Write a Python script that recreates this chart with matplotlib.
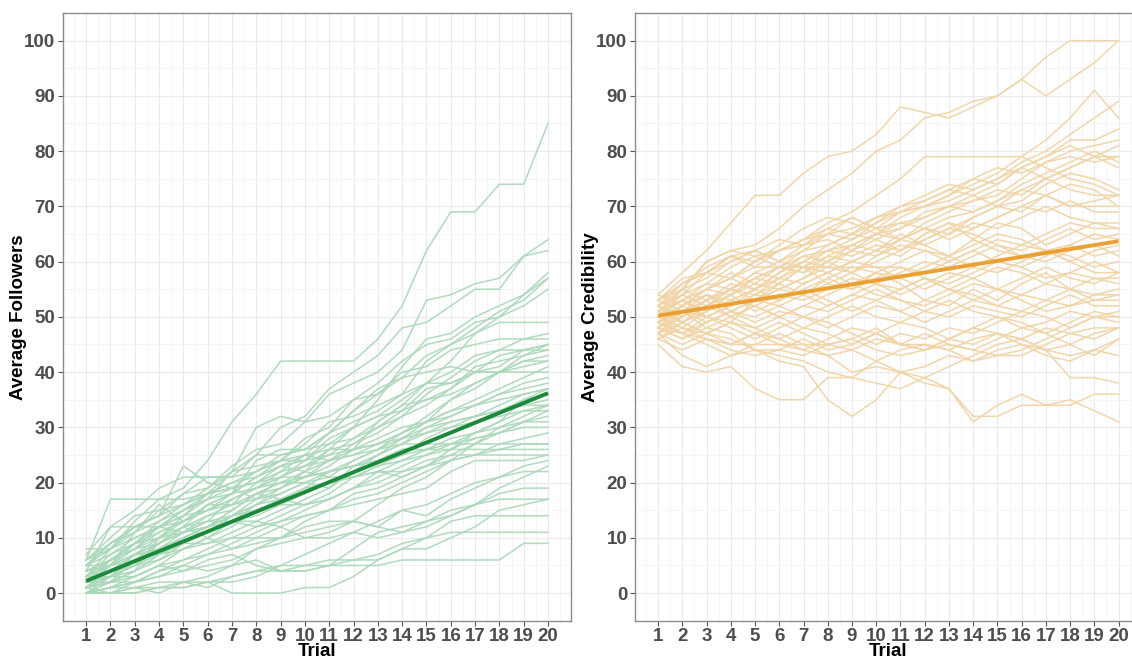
import numpy as np
import matplotlib
matplotlib.use("Agg")
import matplotlib.pyplot as plt
from matplotlib.ticker import MultipleLocator

trials = list(range(1, 21))

# Average followers per participant, trials 1..20
followers = [
    [3, 8, 13, 17, 19, 24, 31, 36, 42, 42, 42, 42, 46, 52, 62, 69, 69, 74, 74, 85],
    [5, 9, 12, 14, 18, 19, 23, 26, 27, 31, 36, 38, 40, 44, 53, 54, 56, 57, 61, 64],
    [2, 6, 9, 13, 15, 18, 22, 25, 30, 32, 37, 40, 43, 48, 49, 52, 55, 55, 61, 62],
    [1, 3, 7, 9, 12, 16, 16, 20, 23, 24, 28, 30, 35, 41, 46, 47, 50, 52, 54, 58],
    [4, 6, 9, 12, 14, 18, 19, 22, 25, 26, 29, 33, 37, 39, 43, 45, 48, 51, 53, 57],
    [0, 3, 5, 8, 11, 13, 17, 19, 21, 24, 27, 28, 31, 34, 38, 42, 47, 50, 54, 57],
    [2, 5, 9, 10, 14, 15, 18, 21, 24, 28, 30, 35, 38, 42, 45, 46, 49, 50, 52, 55],
    [6, 17, 17, 17, 17, 18, 20, 22, 24, 27, 31, 32, 34, 36, 42, 45, 47, 49, 49, 49],
    [1, 2, 6, 8, 10, 12, 15, 18, 20, 22, 26, 30, 32, 35, 38, 40, 43, 44, 46, 47],
    [3, 6, 9, 12, 15, 17, 22, 30, 32, 31, 32, 35, 36, 40, 41, 44, 45, 46, 46, 46],
    [0, 2, 4, 7, 9, 11, 14, 17, 21, 23, 26, 27, 29, 32, 34, 37, 40, 41, 44, 45],
    [5, 8, 12, 12, 14, 17, 18, 24, 26, 26, 27, 30, 32, 33, 37, 38, 40, 43, 44, 45],
    [2, 4, 5, 9, 11, 13, 14, 16, 19, 21, 23, 26, 31, 34, 35, 37, 41, 42, 43, 44],
    [7, 12, 15, 19, 21, 21, 21, 22, 24, 24, 25, 28, 30, 32, 36, 39, 42, 44, 44, 44],
    [1, 3, 6, 8, 10, 12, 15, 18, 19, 22, 24, 25, 27, 29, 31, 35, 38, 40, 42, 43],
    [8, 8, 11, 15, 18, 21, 21, 25, 25, 26, 29, 31, 33, 36, 38, 38, 40, 40, 42, 42],
    [0, 1, 3, 5, 8, 10, 12, 15, 17, 18, 20, 22, 25, 28, 31, 33, 35, 37, 39, 41],
    [4, 6, 8, 11, 13, 15, 17, 19, 22, 25, 29, 33, 36, 39, 40, 41, 40, 40, 40, 40],
    [2, 4, 7, 7, 9, 11, 14, 16, 18, 20, 19, 23, 25, 27, 30, 32, 34, 36, 38, 39],
    [3, 5, 6, 9, 12, 13, 13, 16, 17, 19, 22, 24, 26, 29, 31, 33, 34, 36, 37, 38],
    [0, 2, 3, 5, 6, 8, 10, 12, 14, 16, 18, 21, 23, 25, 28, 30, 32, 34, 36, 37],
    [5, 9, 11, 13, 16, 19, 22, 23, 24, 25, 26, 26, 28, 30, 31, 32, 34, 35, 36, 37],
    [1, 4, 7, 9, 12, 14, 16, 18, 20, 21, 22, 23, 25, 27, 29, 31, 32, 33, 35, 36],
    [2, 3, 5, 6, 8, 9, 11, 13, 15, 17, 19, 22, 24, 26, 27, 29, 31, 33, 34, 35],
    [6, 9, 12, 14, 16, 18, 20, 21, 23, 22, 21, 24, 26, 28, 30, 31, 32, 33, 34, 34],
    [0, 1, 2, 4, 6, 7, 9, 11, 13, 15, 17, 19, 21, 23, 25, 27, 29, 31, 33, 34],
    [3, 7, 10, 12, 13, 16, 18, 19, 21, 23, 25, 26, 27, 28, 29, 30, 31, 32, 33, 33],
    [1, 3, 4, 6, 9, 11, 13, 14, 16, 18, 20, 21, 22, 24, 25, 26, 28, 29, 31, 32],
    [4, 5, 7, 10, 13, 15, 16, 17, 18, 20, 22, 23, 24, 25, 26, 28, 29, 30, 31, 31],
    [2, 6, 8, 10, 11, 12, 14, 15, 17, 19, 20, 21, 23, 24, 26, 27, 28, 29, 30, 30],
    [0, 0, 2, 3, 5, 7, 8, 10, 12, 14, 15, 17, 18, 20, 22, 24, 25, 27, 28, 29],
    [5, 7, 9, 11, 13, 15, 17, 19, 20, 20, 21, 21, 22, 22, 23, 24, 25, 26, 27, 27],
    [6, 10, 14, 15, 16, 18, 19, 20, 22, 23, 24, 25, 26, 27, 27, 27, 27, 27, 27, 27],
    [6, 8, 10, 12, 15, 17, 19, 20, 21, 21, 22, 23, 24, 26, 26, 26, 26, 26, 26, 26],
    [2, 4, 6, 8, 10, 12, 14, 15, 16, 16, 17, 19, 20, 22, 24, 25, 25, 25, 25, 25],
    [4, 6, 8, 9, 11, 12, 13, 12, 13, 14, 15, 16, 17, 18, 19, 22, 24, 24, 24, 25],
    [0, 0, 0, 1, 1, 2, 2, 3, 5, 7, 9, 11, 13, 15, 16, 18, 20, 21, 23, 24],
    [1, 2, 2, 3, 4, 5, 6, 8, 9, 10, 10, 11, 10, 11, 13, 14, 16, 19, 21, 23],
    [3, 5, 7, 8, 9, 9, 10, 10, 10, 11, 12, 13, 12, 11, 12, 14, 16, 18, 19, 19],
    [0, 0, 1, 0, 2, 1, 3, 4, 5, 5, 6, 6, 6, 8, 8, 10, 12, 15, 16, 17],
    [2, 3, 3, 5, 4, 6, 7, 5, 4, 4, 5, 8, 11, 12, 13, 15, 16, 17, 17, 17],
    [0, 1, 2, 4, 5, 4, 5, 6, 4, 4, 5, 6, 7, 9, 10, 13, 14, 14, 14, 14],
    [1, 0, 0, 1, 1, 2, 0, 0, 0, 1, 1, 3, 6, 8, 10, 11, 11, 11, 11, 11],
    [0, 0, 1, 1, 2, 2, 3, 4, 4, 5, 5, 5, 5, 6, 6, 6, 6, 6, 9, 9],
    [3, 3, 5, 7, 8, 10, 8, 9, 10, 12, 13, 13, 16, 19, 21, 24, 27, 30, 32, 34],
    [0, 1, 1, 2, 2, 3, 5, 8, 10, 13, 15, 18, 19, 21, 23, 25, 27, 29, 31, 33],
    [4, 12, 12, 14, 23, 20, 19, 17, 19, 21, 24, 26, 27, 29, 32, 35, 37, 40, 41, 42],
    [1, 5, 11, 16, 13, 16, 18, 21, 23, 25, 24, 27, 30, 33, 35, 36, 38, 40, 43, 45],
    [2, 2, 4, 10, 12, 10, 13, 13, 12, 10, 11, 13, 12, 15, 14, 17, 19, 21, 22, 22],
    [5, 5, 8, 12, 11, 14, 15, 18, 17, 16, 17, 19, 22, 21, 23, 26, 29, 31, 35, 37],
]

# Average credibility per participant, trials 1..20
credibility = [
    [54, 58, 62, 67, 72, 72, 76, 79, 80, 83, 88, 87, 86, 88, 90, 93, 97, 100, 100, 100],
    [52, 55, 60, 62, 63, 66, 70, 73, 76, 80, 82, 86, 87, 89, 90, 93, 90, 93, 96, 100],
    [50, 53, 56, 59, 61, 62, 64, 67, 69, 72, 75, 79, 79, 79, 79, 79, 77, 75, 74, 72],
    [51, 53, 55, 57, 60, 62, 63, 65, 66, 68, 69, 70, 72, 74, 76, 79, 82, 86, 91, 86],
    [48, 50, 53, 55, 58, 60, 62, 63, 65, 67, 70, 72, 74, 73, 75, 78, 80, 83, 86, 89],
    [53, 56, 58, 61, 59, 62, 64, 66, 65, 68, 70, 71, 73, 75, 74, 77, 79, 82, 82, 84],
    [49, 52, 55, 54, 57, 59, 58, 61, 63, 62, 64, 67, 69, 71, 72, 75, 78, 80, 81, 82],
    [50, 54, 52, 55, 58, 57, 60, 63, 65, 64, 66, 69, 70, 72, 74, 77, 79, 81, 79, 81],
    [47, 51, 53, 56, 55, 58, 61, 62, 64, 66, 67, 68, 70, 71, 73, 72, 75, 77, 79, 79],
    [52, 50, 53, 55, 57, 56, 59, 62, 63, 65, 68, 70, 72, 75, 77, 76, 78, 79, 78, 79],
    [51, 55, 57, 60, 62, 60, 63, 64, 62, 65, 67, 66, 68, 69, 71, 74, 76, 78, 80, 78],
    [49, 47, 50, 52, 54, 57, 59, 58, 60, 62, 61, 64, 66, 68, 70, 73, 75, 77, 79, 77],
    [53, 57, 58, 60, 62, 64, 63, 66, 68, 66, 69, 71, 73, 72, 70, 71, 74, 76, 75, 73],
    [50, 52, 55, 57, 60, 62, 64, 65, 64, 67, 69, 70, 71, 73, 75, 77, 75, 73, 72, 72],
    [48, 51, 54, 53, 55, 58, 60, 59, 62, 64, 62, 65, 67, 66, 68, 70, 72, 70, 71, 72],
    [52, 56, 59, 61, 60, 63, 66, 68, 67, 65, 66, 68, 70, 69, 71, 73, 72, 70, 70, 70],
    [51, 49, 52, 54, 57, 59, 58, 60, 63, 65, 64, 66, 64, 66, 68, 70, 69, 71, 69, 69],
    [47, 50, 53, 55, 54, 56, 59, 61, 60, 62, 65, 63, 65, 67, 66, 68, 70, 68, 67, 67],
    [50, 53, 51, 54, 56, 55, 57, 60, 62, 61, 63, 62, 60, 62, 64, 63, 65, 67, 66, 66],
    [54, 52, 55, 58, 56, 59, 61, 60, 58, 60, 62, 64, 66, 65, 63, 62, 64, 66, 64, 65],
    [49, 52, 54, 52, 55, 57, 56, 58, 60, 59, 57, 59, 61, 63, 65, 64, 62, 63, 65, 64],
    [51, 53, 50, 52, 54, 53, 55, 57, 59, 58, 60, 62, 61, 59, 61, 63, 62, 60, 62, 63],
    [48, 46, 49, 51, 50, 52, 54, 56, 55, 57, 59, 58, 60, 62, 60, 59, 61, 63, 61, 62],
    [52, 54, 56, 55, 53, 55, 57, 59, 58, 56, 58, 60, 59, 61, 63, 61, 60, 62, 63, 61],
    [50, 48, 51, 53, 52, 50, 52, 54, 56, 58, 57, 55, 57, 59, 58, 60, 62, 61, 59, 60],
    [53, 51, 49, 51, 53, 55, 54, 52, 54, 56, 55, 57, 56, 58, 60, 59, 57, 58, 60, 58],
    [47, 49, 52, 50, 48, 50, 52, 51, 53, 55, 53, 52, 54, 56, 55, 57, 59, 57, 56, 58],
    [51, 53, 55, 57, 59, 59, 59, 59, 59, 59, 59, 57, 55, 57, 59, 58, 56, 55, 57, 57],
    [49, 51, 48, 50, 52, 54, 53, 55, 57, 56, 54, 56, 58, 57, 55, 54, 56, 58, 57, 56],
    [52, 50, 52, 54, 51, 53, 55, 53, 51, 53, 55, 57, 55, 53, 52, 54, 53, 55, 54, 55],
    [50, 52, 54, 51, 49, 51, 50, 52, 54, 53, 51, 53, 55, 54, 52, 51, 53, 52, 54, 54],
    [48, 47, 49, 51, 53, 52, 50, 48, 50, 52, 51, 49, 51, 53, 55, 53, 51, 52, 53, 53],
    [46, 49, 51, 53, 55, 53, 56, 58, 56, 54, 53, 51, 50, 52, 51, 50, 52, 54, 52, 52],
    [53, 55, 53, 50, 52, 50, 48, 50, 52, 50, 49, 51, 53, 51, 50, 48, 49, 51, 50, 51],
    [51, 49, 47, 49, 48, 46, 48, 47, 45, 47, 49, 48, 46, 48, 50, 49, 47, 49, 51, 50],
    [49, 51, 50, 48, 46, 48, 50, 49, 47, 45, 47, 46, 48, 47, 49, 51, 50, 48, 50, 49],
    [47, 45, 47, 49, 47, 45, 44, 46, 48, 47, 45, 44, 46, 48, 47, 46, 48, 47, 48, 48],
    [50, 48, 46, 45, 47, 49, 47, 45, 44, 46, 45, 47, 45, 44, 46, 48, 47, 45, 43, 46],
    [46, 44, 46, 44, 43, 44, 46, 44, 45, 47, 45, 44, 46, 45, 47, 46, 44, 45, 47, 48],
    [45, 41, 40, 41, 37, 35, 35, 39, 39, 42, 44, 45, 44, 46, 47, 45, 43, 42, 44, 43],
    [47, 43, 41, 43, 44, 42, 41, 35, 32, 35, 40, 38, 37, 32, 32, 34, 34, 34, 36, 36],
    [49, 47, 46, 45, 47, 46, 44, 43, 40, 41, 40, 39, 37, 31, 34, 36, 34, 35, 33, 31],
    [50, 47, 45, 43, 45, 47, 45, 43, 44, 42, 40, 41, 43, 42, 44, 45, 44, 39, 39, 38],
    [48, 46, 48, 47, 44, 43, 42, 40, 39, 38, 37, 39, 41, 43, 45, 46, 44, 43, 44, 46],
    [52, 49, 47, 46, 44, 44, 43, 45, 46, 44, 43, 44, 45, 44, 43, 43, 45, 47, 46, 48],
    [46, 48, 47, 45, 45, 45, 45, 45, 46, 48, 45, 45, 44, 42, 43, 44, 46, 48, 50, 50],
    [53, 56, 58, 57, 55, 58, 60, 62, 61, 63, 62, 65, 67, 64, 62, 61, 62, 60, 58, 58],
    [51, 54, 58, 61, 62, 60, 59, 56, 58, 61, 64, 66, 65, 68, 70, 69, 72, 74, 73, 70],
    [50, 55, 60, 62, 61, 59, 62, 65, 68, 66, 64, 63, 61, 64, 67, 66, 63, 65, 67, 66],
    [48, 52, 50, 49, 53, 56, 54, 57, 55, 58, 56, 53, 52, 55, 53, 56, 58, 55, 53, 54],
]

# linear trend (lm fit) read at trial 1 and trial 20
followers_trend = [2.2, 36.2]
credibility_trend = [50.2, 63.7]

panels = [
    ("Average Followers", followers, followers_trend, "#acd8ba", "#1a8a3a"),
    ("Average Credibility", credibility, credibility_trend, "#f1d4a5", "#eba032"),
]

plt.rcParams["font.family"] = ["Liberation Sans", "DejaVu Sans"]

fig = plt.figure(figsize=(11.32, 6.60), dpi=100)
rects = [[0.0557, 0.0595, 0.4488, 0.9208], [0.5610, 0.0595, 0.4475, 0.9208]]

for rect, (label, series, trend, light, dark) in zip(rects, panels):
    ax = fig.add_axes(rect)
    for s in series:
        ax.plot(trials, s, color=light, lw=1.1, alpha=0.95, zorder=2)
    ax.plot([trials[0], trials[-1]], trend, color=dark, lw=2.8, zorder=3,
            solid_capstyle="butt")

    ax.set_xlim(0.05, 20.95)
    ax.set_ylim(-5, 105)
    ax.set_xticks(trials)
    ax.xaxis.set_minor_locator(MultipleLocator(0.5))
    ax.set_yticks(range(0, 101, 10))
    ax.yaxis.set_minor_locator(MultipleLocator(5))
    ax.grid(which="major", color="#ebebeb", lw=0.8, zorder=0)
    ax.grid(which="minor", color="#f4f4f4", lw=0.6, zorder=0)
    ax.set_axisbelow(True)
    ax.tick_params(which="minor", length=0)
    ax.tick_params(which="major", length=3.5, width=0.8, color="#555555",
                   labelsize=13.5, labelcolor="#4d4d4d", pad=2)
    for t in ax.get_xticklabels() + ax.get_yticklabels():
        t.set_fontweight("bold")
    for sp in ax.spines.values():
        sp.set_color("#8c8c8c")
        sp.set_linewidth(1.0)

    ax.set_xlabel("Trial", fontsize=13.5, fontweight="bold", labelpad=-1.5)
    ax.set_ylabel(label, fontsize=13.5, fontweight="bold", labelpad=-2)

fig.savefig("out.png", dpi=100)
